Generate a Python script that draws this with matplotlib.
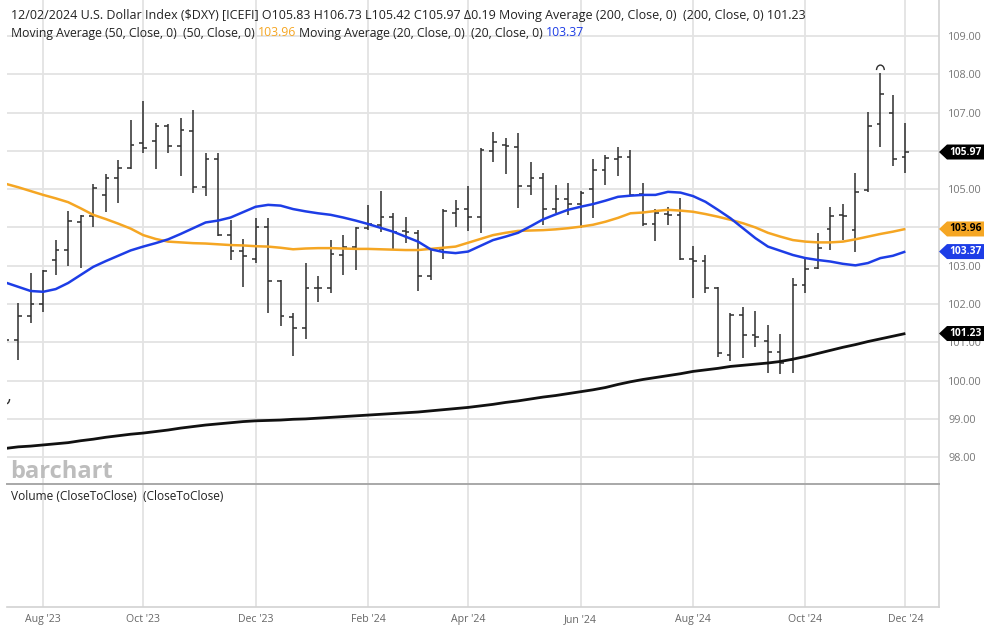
import matplotlib
matplotlib.use('Agg')
import matplotlib.pyplot as plt
import matplotlib.transforms as mtransforms
from matplotlib.patches import Polygon, Arc

plt.rcParams['font.family'] = ['Open Sans', 'DejaVu Sans']

# ---------------- data (weekly bars, week starting dates) ----------------
week_dates = [
    '2023-07-17', '2023-07-24', '2023-07-31', '2023-08-07', '2023-08-14', '2023-08-21', '2023-08-28',
    '2023-09-04', '2023-09-11', '2023-09-18', '2023-09-25', '2023-10-02', '2023-10-09', '2023-10-16',
    '2023-10-23', '2023-10-30', '2023-11-06', '2023-11-13', '2023-11-20', '2023-11-27', '2023-12-04',
    '2023-12-11', '2023-12-18', '2023-12-25', '2024-01-01', '2024-01-08', '2024-01-15', '2024-01-22',
    '2024-01-29', '2024-02-05', '2024-02-12', '2024-02-19', '2024-02-26', '2024-03-04', '2024-03-11',
    '2024-03-18', '2024-03-25', '2024-04-01', '2024-04-08', '2024-04-15', '2024-04-22', '2024-04-29',
    '2024-05-06', '2024-05-13', '2024-05-20', '2024-05-27', '2024-06-03', '2024-06-10', '2024-06-17',
    '2024-06-24', '2024-07-01', '2024-07-08', '2024-07-15', '2024-07-22', '2024-07-29', '2024-08-05',
    '2024-08-12', '2024-08-19', '2024-08-26', '2024-09-02', '2024-09-09', '2024-09-16', '2024-09-23',
    '2024-09-30', '2024-10-07', '2024-10-14', '2024-10-21', '2024-10-28', '2024-11-04', '2024-11-11',
    '2024-11-18', '2024-11-25', '2024-12-02']

opens = [99.92, 101.06, 101.69, 101.99, 103.15, 103.41, 104.15, 104.30, 104.85, 105.28, 105.56,
         106.20, 106.27, 106.65, 106.13, 106.53, 105.05, 105.78, 103.80, 103.39, 103.17, 104.00,
         102.59, 101.66, 101.37, 102.43, 102.43, 103.29, 103.50, 103.98, 104.07, 104.27, 103.90,
         103.86, 102.74, 103.43, 104.39, 104.48, 104.27, 106.00, 106.15, 106.10, 105.07, 105.30,
         104.48, 104.74, 104.60, 105.00, 105.50, 105.80, 105.85, 104.87, 104.10, 104.35, 104.33,
         103.17, 103.13, 102.41, 100.67, 101.72, 101.19, 101.04, 100.74, 100.54, 102.50, 102.93,
         103.95, 104.33, 103.93, 104.98, 106.70, 107.00, 105.83]
highs = [101.12, 102.02, 102.82, 102.89, 103.66, 104.43, 104.33, 105.14, 105.39, 105.76, 106.81,
         107.31, 106.74, 106.70, 106.85, 107.07, 105.95, 105.94, 104.20, 103.69, 104.24, 104.24,
         102.62, 101.76, 103.08, 102.73, 103.67, 103.80, 104.00, 104.59, 104.96, 104.39, 104.27,
         103.93, 103.45, 104.48, 104.72, 105.08, 106.07, 106.49, 106.34, 106.46, 105.72, 105.43,
         105.11, 105.15, 104.94, 105.78, 105.89, 106.11, 106.02, 105.15, 104.48, 104.54, 104.76,
         103.52, 103.28, 102.44, 101.76, 101.91, 101.83, 101.46, 101.22, 102.67, 103.24, 103.86,
         104.54, 104.61, 105.41, 107.02, 108.03, 107.46, 106.73]
lows = [99.60, 100.54, 101.51, 101.78, 102.76, 102.99, 102.93, 104.02, 104.41, 104.65, 105.52,
        105.94, 105.52, 105.95, 105.34, 104.91, 104.82, 103.78, 103.15, 102.45, 103.07, 101.76,
        101.43, 100.63, 101.08, 102.06, 102.30, 102.76, 102.89, 103.93, 103.89, 103.41, 103.59,
        102.35, 102.63, 103.17, 104.00, 103.91, 103.86, 105.72, 105.40, 104.50, 104.85, 104.07,
        104.37, 104.33, 103.98, 104.24, 105.11, 105.34, 104.83, 104.05, 103.65, 104.07, 103.15,
        102.15, 102.28, 100.61, 100.52, 100.58, 100.89, 100.21, 100.17, 100.19, 102.28, 102.91,
        103.41, 103.66, 103.37, 104.93, 106.09, 105.61, 105.42]
closes = [101.06, 101.69, 101.99, 102.85, 103.41, 104.17, 104.30, 105.02, 105.28, 105.56, 106.15,
          106.07, 106.65, 106.13, 106.55, 105.05, 105.78, 103.80, 103.39, 103.26, 104.00, 102.59,
          101.70, 101.37, 102.43, 102.41, 103.30, 103.50, 103.98, 104.09, 104.27, 103.89, 103.88,
          102.74, 103.43, 104.44, 104.48, 104.27, 106.02, 106.22, 106.13, 105.07, 105.30, 104.48,
          104.74, 104.61, 104.91, 105.50, 105.81, 105.85, 104.85, 104.08, 104.38, 104.33, 103.17,
          103.13, 102.41, 100.72, 101.72, 101.19, 101.13, 100.74, 100.45, 102.50, 102.91, 103.46,
          104.30, 104.30, 104.93, 106.65, 107.48, 105.78, 105.97]

ma200 = [98.23, 98.27, 98.29, 98.32, 98.35, 98.38, 98.43, 98.47, 98.52, 98.56, 98.60, 98.63, 98.67,
         98.71, 98.76, 98.80, 98.84, 98.87, 98.90, 98.93, 98.95, 98.96, 98.97, 98.99, 99.00, 99.02,
         99.04, 99.06, 99.08, 99.10, 99.12, 99.14, 99.16, 99.18, 99.21, 99.24, 99.27, 99.30, 99.34,
         99.38, 99.43, 99.47, 99.52, 99.57, 99.61, 99.66, 99.71, 99.76, 99.82, 99.90, 99.97, 100.03,
         100.08, 100.13, 100.18, 100.24, 100.28, 100.32, 100.37, 100.40, 100.43, 100.46, 100.50,
         100.56, 100.63, 100.71, 100.79, 100.87, 100.94, 101.02, 101.09, 101.16, 101.23]
ma50 = [105.14, 105.05, 104.95, 104.85, 104.76, 104.66, 104.50, 104.33, 104.22, 104.10, 103.97,
        103.80, 103.70, 103.63, 103.61, 103.59, 103.58, 103.56, 103.54, 103.53, 103.51, 103.50,
        103.47, 103.43, 103.45, 103.46, 103.46, 103.45, 103.44, 103.44, 103.43, 103.42, 103.41,
        103.41, 103.44, 103.47, 103.50, 103.60, 103.70, 103.80, 103.86, 103.91, 103.92, 103.93,
        103.95, 103.98, 104.02, 104.07, 104.15, 104.25, 104.37, 104.39, 104.43, 104.46, 104.44,
        104.41, 104.35, 104.28, 104.20, 104.11, 104.00, 103.86, 103.76, 103.67, 103.63, 103.61,
        103.61, 103.63, 103.69, 103.76, 103.83, 103.89, 103.96]
ma20 = [102.56, 102.45, 102.34, 102.32, 102.39, 102.55, 102.76, 102.97, 103.12, 103.26, 103.40,
        103.50, 103.59, 103.69, 103.83, 103.98, 104.13, 104.18, 104.26, 104.40, 104.54, 104.59,
        104.57, 104.48, 104.42, 104.37, 104.33, 104.26, 104.18, 104.09, 103.99, 103.89, 103.76,
        103.63, 103.43, 103.36, 103.33, 103.37, 103.52, 103.67, 103.76, 103.86, 104.03, 104.21,
        104.34, 104.46, 104.54, 104.61, 104.70, 104.80, 104.83, 104.85, 104.85, 104.93, 104.91,
        104.82, 104.67, 104.46, 104.24, 103.98, 103.72, 103.50, 103.39, 103.28, 103.20, 103.15,
        103.11, 103.05, 103.01, 103.07, 103.20, 103.26, 103.37]

month_tick_dates = ['2023-08-07', '2023-10-02', '2023-12-04', '2024-02-05', '2024-04-01',
                    '2024-06-03', '2024-08-05', '2024-10-07', '2024-12-02']
month_tick_labels = ["Aug '23", "Oct '23", "Dec '23", "Feb '24", "Apr '24",
                     "Jun '24", "Aug '24", "Oct '24", "Dec '24"]
price_ticks = [98, 99, 100, 101, 102, 103, 104, 105, 106, 107, 108, 109]

header_line1 = ("12/02/2024 U.S. Dollar Index ($DXY) [ICEFI] O105.83 H106.73 L105.42 C105.97 "
                "\u03940.19 Moving Average (200, Close, 0)  (200, Close, 0) 101.23")

# ---------------- colours ----------------
C_BAR = '#2e2e2e'
C_MA200 = '#111111'
C_MA50 = '#f5a623'
C_MA20 = '#1d3de6'
C_GRID = '#e3e3e3'
HDR_FS = 9
HDR2_FS = 8.8

# ---------------- layout ----------------
W, H = 995, 632
fig = plt.figure(figsize=(W / 100, H / 100), dpi=100)


def fx(px):
    return px / W


def fy(py):
    return 1 - py / H


ax = fig.add_axes([fx(7), fy(484), fx(939) - fx(7), fy(0) - fy(484)])
axv = fig.add_axes([fx(7), fy(607), fx(939) - fx(7), fy(484) - fy(607)])

n = len(closes)
xs = list(range(n))
xlim = (0.104, n - 1 + 2.69)

# ---------------- OHLC bars ----------------
tick = 0.30
ax.vlines(xs, lows, highs, color=C_BAR, lw=1.1, zorder=3)
ax.hlines(opens, [x - tick for x in xs], xs, color=C_BAR, lw=1.1, zorder=3)
ax.hlines(closes, xs, [x + tick for x in xs], color=C_BAR, lw=1.1, zorder=3)

# highest high / lowest low markers
ih = highs.index(max(highs))
il = lows.index(min(lows))
ax.add_patch(Arc((ih, highs[ih] + 0.08), 0.62, 0.26, theta1=0, theta2=180, color=C_BAR, lw=1.0, zorder=3))
ax.add_patch(Arc((il, lows[il] - 0.08), 0.62, 0.26, theta1=180, theta2=360, color=C_BAR, lw=1.0, zorder=3))

# ---------------- moving averages ----------------
ax.plot(xs, ma200, color=C_MA200, lw=2.0, zorder=4, solid_capstyle='butt')
ax.plot(xs, ma50, color=C_MA50, lw=1.8, zorder=4, solid_capstyle='butt')
ax.plot(xs, ma20, color=C_MA20, lw=1.8, zorder=4, solid_capstyle='butt')

# ---------------- axes styling ----------------
tick_pos = [week_dates.index(d) for d in month_tick_dates]

for a in (ax, axv):
    a.set_xlim(*xlim)
    a.set_xticks(tick_pos)
    a.grid(True, axis='x', color=C_GRID, lw=1.3, zorder=0)
    a.set_facecolor('white')
    a.spines['left'].set_visible(False)
    a.spines['right'].set_color('#d2d2d2')
    a.spines['right'].set_linewidth(1.2)

ax.set_ylim(97.30, 109.94)
ax.set_yticks(price_ticks)
ax.set_yticklabels([f'{v:.2f}' for v in price_ticks])
ax.yaxis.tick_right()
ax.tick_params(axis='y', length=0, pad=6.5, labelsize=7.8, labelcolor='#777777')
ax.tick_params(axis='x', length=0, labelbottom=False)
ax.grid(True, axis='y', color=C_GRID, lw=1.3, zorder=0)
ax.spines['top'].set_visible(False)
ax.spines['bottom'].set_visible(False)

axv.set_ylim(0, 1)
axv.set_yticks([])
axv.set_xticklabels(month_tick_labels)
axv.tick_params(axis='x', length=0, pad=5, labelsize=7.6, labelcolor='#666666')
axv.spines['top'].set_color('#a8a8a8')
axv.spines['top'].set_linewidth(1.4)
axv.spines['bottom'].set_color('#d2d2d2')
axv.spines['bottom'].set_linewidth(1.2)

# ---------------- texts ----------------
fig.text(fx(10), fy(478), 'barchart', fontsize=17, fontweight='bold', color='#bdbdbd',
         va='baseline', ha='left')
fig.text(fx(11), fy(497), 'Volume (CloseToClose)  (CloseToClose)', fontsize=8.6,
         color='#222222', va='center', ha='left')

fig.text(fx(11), fy(15), header_line1, fontsize=HDR_FS, color='#222222', va='center', ha='left')

renderer = fig.canvas.get_renderer()


def text_w(s, fs):
    t = fig.text(0, 0, s, fontsize=fs)
    w = t.get_window_extent(renderer=renderer).width
    t.remove()
    return w


space_w = text_w('a a', HDR2_FS) - text_w('aa', HDR2_FS)
segments = [('Moving Average (50, Close, 0)  (50, Close, 0)', '#222222'),
            ('103.96', C_MA50),
            ('Moving Average (20, Close, 0)  (20, Close, 0)', '#222222'),
            ('103.37', C_MA20)]
xp = 11
for s, c in segments:
    fig.text(fx(xp), fy(33), s, fontsize=HDR2_FS, color=c, va='center', ha='left')
    xp += text_w(s, HDR2_FS) + space_w

# ---------------- price tags on the right axis ----------------
tr = mtransforms.blended_transform_factory(fig.transFigure, ax.transData)
half_h = 7.5 / 38.3


def price_tag(value, face, tcolor):
    pts = [(fx(939), value), (fx(947), value + half_h), (fx(984), value + half_h),
           (fx(984), value - half_h), (fx(947), value - half_h)]
    poly = Polygon(pts, closed=True, transform=tr, facecolor=face, edgecolor='none',
                   clip_on=False, zorder=5)
    fig.add_artist(poly)
    fig.text(fx(965.5), value, f'{value:.2f}', transform=tr, fontsize=7.4, fontweight='bold',
             color=tcolor, ha='center', va='center', zorder=6)


price_tag(closes[-1], '#000000', 'white')
price_tag(ma50[-1], C_MA50, 'black')
price_tag(ma20[-1], C_MA20, 'white')
price_tag(ma200[-1], '#000000', 'white')

fig.savefig('out.png', dpi=100)
